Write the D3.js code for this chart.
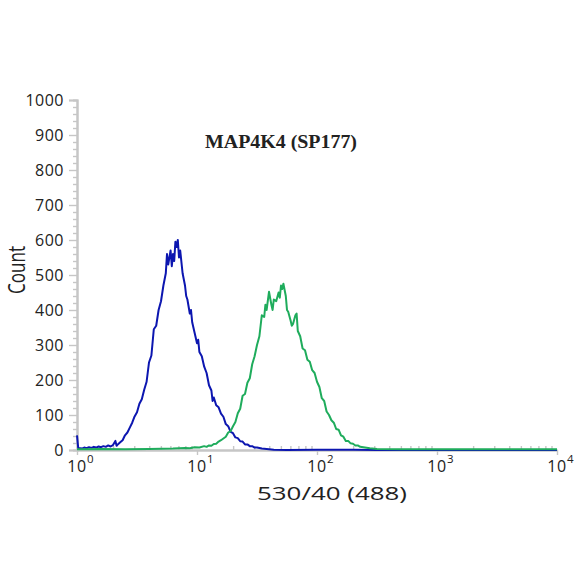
<!DOCTYPE html>
<html>
<head>
<meta charset="utf-8">
<script src="https://cdn.jsdelivr.net/npm/d3@7"></script>
<style>
  html, body { margin: 0; padding: 0; background: #fff; }
  svg { display: block; }
  text { font-family: "Open Sans", sans-serif; fill: #222; }
</style>
</head>
<body>
<svg id="chart" width="584" height="584"></svg>
<script>
// ---------- data (x in log10 decades of 530/40 intensity, y = count) ----------
const blueDecade = [0.00,0.01,0.04,0.06,0.08,0.10,0.12,0.14,0.16,0.18,0.20,0.22,0.24,0.26,0.28,0.30,0.32,0.33,0.34,0.36,0.38,0.40,0.42,0.44,0.46,0.48,0.50,0.52,0.54,0.56,0.58,0.60,0.62,0.64,0.66,0.68,0.70,0.72,0.74,0.75,0.76,0.78,0.79,0.80,0.81,0.82,0.83,0.84,0.85,0.86,0.88,0.90,0.91,0.92,0.94,0.95,0.96,0.98,1.00,1.01,1.02,1.04,1.06,1.08,1.10,1.12,1.13,1.14,1.16,1.18,1.20,1.22,1.24,1.26,1.28,1.30,1.32,1.34,1.36,1.38,1.40,1.42,1.44,1.46,1.48,1.50,1.54,1.58,1.64,1.75,2.00,2.30,2.50,4.00];
const blueCount  = [42,6,4,7,5,8,6,9,7,10,8,11,9,13,10,14,26,12,16,22,28,42,50,64,78,96,108,132,145,172,195,250,270,345,355,400,425,470,505,560,530,570,525,560,540,595,580,600,550,570,505,470,440,430,390,400,365,335,305,315,280,268,238,220,185,170,140,150,128,122,104,95,74,68,52,48,36,34,25,24,16,16,11,11,7,7,4,3,1,0,1,1,0,0];

const greenDecade = [0.00,0.20,0.40,0.60,0.80,0.90,0.94,0.98,1.02,1.06,1.08,1.10,1.12,1.14,1.16,1.18,1.20,1.22,1.24,1.26,1.28,1.30,1.32,1.34,1.36,1.38,1.40,1.42,1.44,1.46,1.48,1.50,1.52,1.54,1.56,1.57,1.58,1.60,1.62,1.63,1.64,1.66,1.68,1.69,1.70,1.71,1.72,1.74,1.75,1.76,1.78,1.79,1.80,1.82,1.83,1.84,1.86,1.88,1.90,1.92,1.94,1.96,1.98,2.00,2.02,2.04,2.06,2.08,2.10,2.12,2.14,2.16,2.18,2.20,2.22,2.24,2.26,2.28,2.30,2.32,2.34,2.36,2.40,2.44,2.50,2.70,3.00,3.50,4.00];
const greenCount  = [2,3,2,3,4,6,5,8,7,11,9,13,12,17,18,24,28,33,38,50,54,68,80,105,118,155,160,192,205,245,268,300,325,385,380,415,400,452,415,400,430,425,450,435,470,460,475,440,400,395,370,355,360,385,390,340,325,290,285,258,252,228,220,195,180,148,140,110,100,85,78,60,58,42,38,26,26,19,18,13,13,9,7,5,3,2,2,2,2];

const yTickValues = [0,100,200,300,400,500,600,700,800,900,1000];
const yMinorValues = [20,40,60,80,120,140,160,180,220,240,260,280,320,340,360,380,420,440,460,480,520,540,560,580,620,640,660,680,720,740,760,780,820,840,860,880,920,940,960,980];
const xTickValues = [1,10,100,1000,10000];
const xTickExponents = ["0","1","2","3","4"];
const xMinorValues = [2,3,4,5,6,7,8,9,20,30,40,50,60,70,80,90,200,300,400,500,600,700,800,900,2000,3000,4000,5000,6000,7000,8000,9000];

const titleText = "MAP4K4 (SP177)";
const xLabelText = "530/40 (488)";
const yLabelText = "Count";

// ---------- chart ----------
const svg = d3.select("#chart");
const x = d3.scaleLog().domain([1, 10000]).range([77, 557]);
const y = d3.scaleLinear().domain([0, 1000]).range([450, 100]);
const axisColor = "#c6c6c6";

// y axis minor
const gyMinor = svg.append("g").attr("transform", "translate(77,0)")
  .call(d3.axisLeft(y).tickValues(yMinorValues).tickSize(4).tickFormat(""));
// y axis major
const gy = svg.append("g").attr("transform", "translate(77,0)")
  .call(d3.axisLeft(y).tickValues(yTickValues).tickSize(8).tickPadding(5).tickFormat(d3.format("d")));
gy.selectAll("text").style("font-size", "16px").style("letter-spacing", "0.5px").attr("fill", "#1e1e1e");

// x axis minor (pointing up)
const gxMinor = svg.append("g").attr("transform", "translate(0,450)")
  .call(d3.axisBottom(x).tickValues(xMinorValues).tickSizeInner(-4).tickSizeOuter(0).tickFormat(""));
// x axis major
const gx = svg.append("g").attr("transform", "translate(0,450)")
  .call(d3.axisBottom(x).tickValues(xTickValues).tickSizeInner(5).tickSizeOuter(0).tickFormat(""));

[gyMinor, gy, gxMinor, gx].forEach(g => {
  g.selectAll("path.domain").attr("stroke", axisColor).attr("stroke-width", 2);
  g.selectAll(".tick line").attr("stroke", axisColor).attr("stroke-width", 1.4);
});

// x tick labels 10^n
const xl = svg.append("g");
xTickValues.forEach((v, i) => {
  xl.append("text").attr("x", x(v)).attr("y", 472)
    .attr("text-anchor", "middle").style("font-size", "16px").style("letter-spacing", "0.5px")
    .attr("fill", "#1e1e1e").text("10");
  xl.append("text").attr("x", x(v) + 10).attr("y", 463)
    .style("font-size", "11.5px").attr("fill", "#1e1e1e").text(xTickExponents[i]);
});

// curves
const line = d3.line().x(d => x(Math.pow(10, d[0]))).y(d => y(d[1]));
const blueData = blueDecade.map((d, i) => [d, blueCount[i]]);
const greenData = greenDecade.map((d, i) => [d, greenCount[i]]);

svg.append("path").datum(blueData).attr("d", line)
  .attr("fill", "none").attr("stroke", "#0c16b0").attr("stroke-width", 2).attr("stroke-linejoin", "round");
svg.append("path").datum(greenData).attr("d", line)
  .attr("fill", "none").attr("stroke", "#1fac5c").attr("stroke-width", 2).attr("stroke-linejoin", "round");

// title
svg.append("text").attr("x", 205).attr("y", 148)
  .attr("textLength", 152).attr("lengthAdjust", "spacingAndGlyphs")
  .style("font-family", "'Liberation Serif', serif").style("font-weight", "bold").style("font-size", "18px")
  .attr("fill", "#111").text(titleText);

// x label
svg.append("text").attr("x", 257).attr("y", 500)
  .attr("textLength", 150).attr("lengthAdjust", "spacingAndGlyphs")
  .style("font-size", "18.5px").attr("fill", "#1e1e1e").text(xLabelText);

// y label
svg.append("text").attr("transform", "translate(25,294) rotate(-90)")
  .attr("textLength", 48).attr("lengthAdjust", "spacingAndGlyphs")
  .style("font-size", "23px").attr("fill", "#111").text(yLabelText);
</script>
</body>
</html>
